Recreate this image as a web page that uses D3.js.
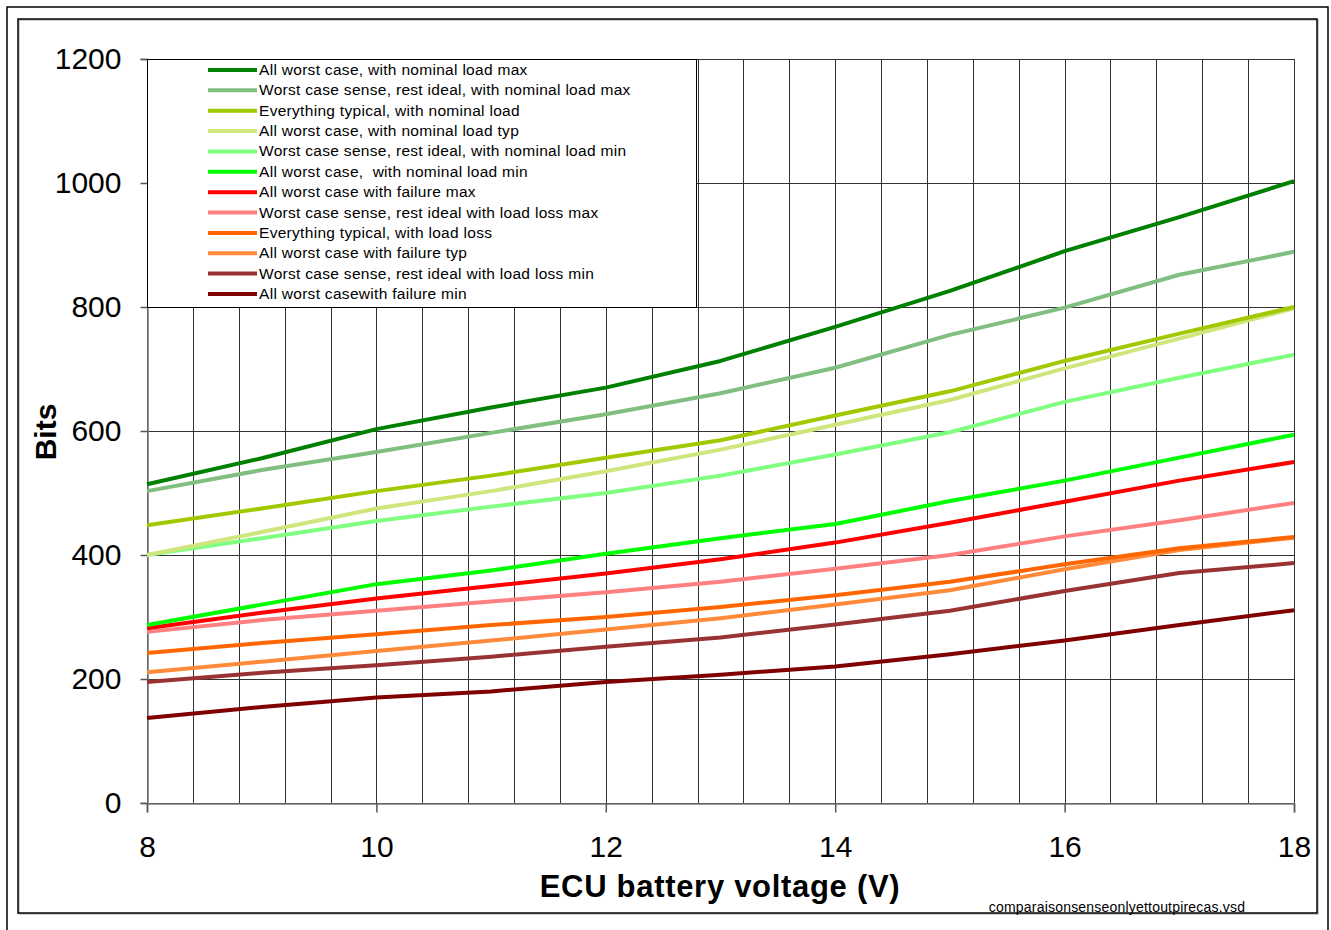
<!DOCTYPE html>
<html>
<head>
<meta charset="utf-8">
<script src="https://cdn.jsdelivr.net/npm/d3@7"></script>
<style>
  body { margin: 0; background: #fff; }
  svg { display: block; font-family: "Liberation Sans", Arial, sans-serif; }
</style>
</head>
<body>
<svg id="chart" width="1331" height="930"></svg>
<script>
// Voltage samples (V)
const volts = [8, 9, 10, 11, 12, 13, 14, 15, 16, 17, 18];

// Series names, in legend order
const names = [
    "All worst case, with nominal load max",
    "Worst case sense, rest ideal, with nominal load max",
    "Everything typical, with nominal load",
    "All worst case, with nominal load typ",
    "Worst case sense, rest ideal, with nominal load min",
    "All worst case,  with nominal load min",
    "All worst case with failure max",
    "Worst case sense, rest ideal with load loss max",
    "Everything typical, with load loss",
    "All worst case with failure typ",
    "Worst case sense, rest ideal with load loss min",
    "All worst casewith failure min"
];

const colors = ["#008000", "#80bf80", "#a2c800", "#cfe67c", "#80ff80", "#00ff00",
    "#ff0000", "#ff8080", "#ff6600", "#ff8a3a", "#993333", "#800000"];

// Bits at each voltage
const nomLoadMax = [514, 556, 603, 638, 670, 713, 768, 826, 890, 945, 1003];
const senseNomMax = [503, 537, 566, 597, 627, 661, 702, 755, 799, 852, 889];
const typNom = [448, 475, 503, 528, 557, 585, 625, 664, 713, 757, 800];
const nomLoadTyp = [400, 437, 475, 503, 535, 570, 610, 650, 701, 749, 798];
const senseNomMin = [400, 427, 455, 478, 500, 528, 562, 598, 647, 686, 723];
const nomLoadMin = [287, 320, 353, 375, 402, 427, 450, 487, 520, 557, 594];
const failMax = [282, 307, 330, 350, 370, 393, 420, 452, 486, 520, 550];
const senseLossMax = [276, 295, 310, 325, 340, 357, 378, 400, 430, 456, 484];
const typLoss = [242, 258, 272, 287, 300, 316, 335, 357, 385, 411, 429];
const failTyp = [211, 228, 245, 262, 280, 298, 320, 343, 377, 408, 428];
const senseLossMin = [195, 210, 222, 236, 252, 267, 288, 310, 342, 371, 387];
const failMin = [137, 155, 170, 180, 195, 207, 220, 240, 262, 287, 311];

const series = [nomLoadMax, senseNomMax, typNom, nomLoadTyp, senseNomMin, nomLoadMin,
    failMax, senseLossMax, typLoss, failTyp, senseLossMin, failMin];

const xTicks = [8, 10, 12, 14, 16, 18];
const yTicks = [0, 200, 400, 600, 800, 1000, 1200];

window.addEventListener('load', () => {
    let svg = d3.select("svg#chart");
    let x = d3.scaleLinear().domain([8, 18]).range([147, 1294]);
    let y = d3.scaleLinear().domain([0, 1200]).range([803, 59]);

    // outer and inner frames
    svg.append("path").attr("d", "M7,935V7H1328V935")
        .attr("fill", "none").attr("stroke", "#000").attr("stroke-width", 1.5);
    svg.append("rect").attr("x", 19).attr("y", 20).attr("width", 1299).attr("height", 894)
        .attr("fill", "none").attr("stroke", "#999").attr("stroke-width", 1);
    svg.append("rect").attr("x", 18).attr("y", 19).attr("width", 1299).attr("height", 894)
        .attr("fill", "none").attr("stroke", "#000").attr("stroke-width", 1.5);

    // grid
    let grid = svg.append("g").attr("stroke", "#333").attr("stroke-width", 1);
    d3.range(0, 26).forEach(i => {
        let v = 8 + i * 0.4;
        grid.append("line").attr("x1", Math.round(x(v)) + 0.5).attr("x2", Math.round(x(v)) + 0.5)
            .attr("y1", y(1200)).attr("y2", y(0));
    });
    yTicks.forEach(t => {
        grid.append("line").attr("x1", x(8)).attr("x2", x(18))
            .attr("y1", Math.round(y(t)) + 0.5).attr("y2", Math.round(y(t)) + 0.5);
    });

    // axes
    let yAxis = d3.axisLeft(y).tickValues(yTicks).tickFormat(d3.format("d")).tickSize(7).tickPadding(19);
    let gy = svg.append("g").attr("transform", "translate(147.5,0)").call(yAxis);
    let xAxis = d3.axisBottom(x).tickValues(xTicks).tickFormat(d3.format("d")).tickSize(9).tickPadding(22);
    let gx = svg.append("g").attr("transform", "translate(0,803.5)").call(xAxis);
    [gx, gy].forEach(g => {
        g.select(".domain").attr("stroke", "#777").attr("stroke-width", 1.5);
        g.selectAll(".tick line").attr("stroke", "#555").attr("stroke-width", 1.5);
        g.selectAll("text").attr("font-size", 30).attr("fill", "#000")
            .attr("font-family", "'Liberation Sans', Arial, sans-serif");
    });
    gx.selectAll("text").attr("dy", "0.75em");

    // lines
    let line = d3.line().x((d, i) => x(volts[i])).y(d => y(d));
    series.slice().reverse().forEach((s, k) => {
        let idx = series.length - 1 - k;
        svg.append("path").datum(s).attr("d", line)
            .attr("fill", "none").attr("stroke", colors[idx])
            .attr("stroke-width", 4).attr("stroke-linejoin", "round");
    });

    // legend
    let leg = svg.append("g");
    leg.append("rect").attr("x", 147.5).attr("y", 59.5).attr("width", 549).attr("height", 248)
        .attr("fill", "#fff").attr("stroke", "#000").attr("stroke-width", 1);
    names.forEach((n, i) => {
        let ly = 70 + i * 20.36;
        leg.append("line").attr("x1", 208).attr("x2", 257).attr("y1", ly).attr("y2", ly)
            .attr("stroke", colors[i]).attr("stroke-width", 4);
        leg.append("text").attr("x", 259).attr("y", ly + 5).attr("font-size", 15.5)
            .attr("letter-spacing", 0.3)
            .attr("fill", "#000").attr("xml:space", "preserve").style("white-space", "pre").text(n);
    });

    // axis titles
    svg.append("text").attr("x", 720).attr("y", 897).attr("text-anchor", "middle")
        .attr("font-size", 31).attr("letter-spacing", 0.7).attr("font-weight", "bold")
        .text("ECU battery voltage (V)");
    svg.append("text").attr("transform", "translate(56,432) rotate(-90)").attr("text-anchor", "middle")
        .attr("font-size", 30).attr("font-weight", "bold").text("Bits");

    // file name
    svg.append("text").attr("x", 1117).attr("y", 912).attr("text-anchor", "middle")
        .attr("font-size", 14).attr("letter-spacing", 0.2)
        .text("comparaisonsenseonlyettoutpirecas.vsd");
});
</script>
</body>
</html>
